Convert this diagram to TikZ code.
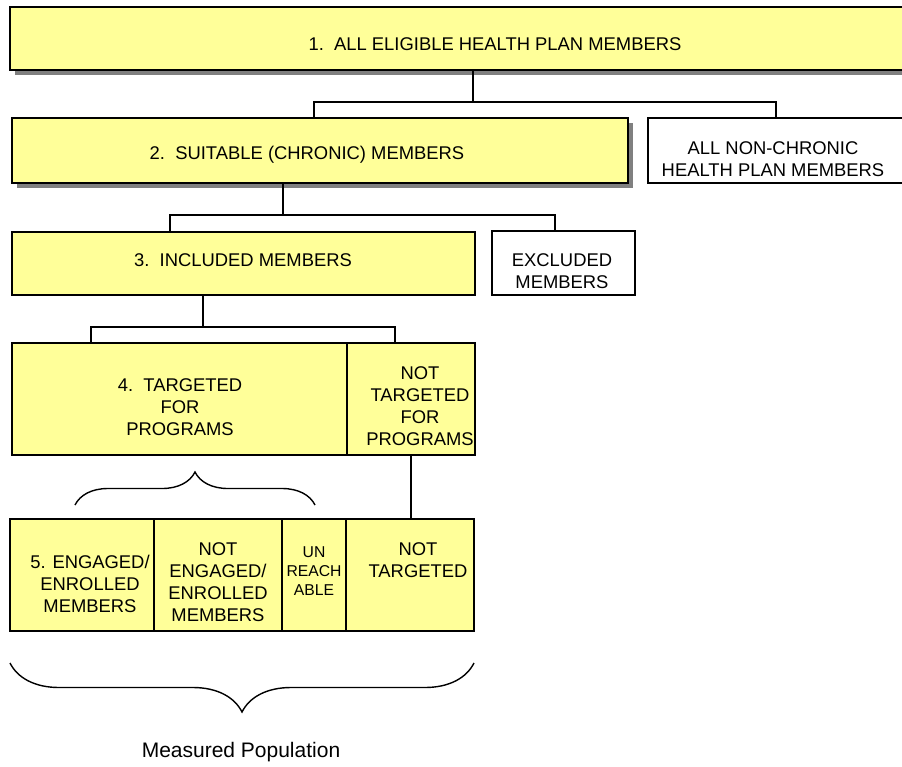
\documentclass[tikz,border=0pt]{standalone}
\usepackage{fontspec}
\setmainfont{Liberation Sans}
\usetikzlibrary{shadows,decorations.pathreplacing}
\definecolor{boxyellow}{HTML}{FFFF99}
\tikzset{
	stage/.style={draw, fill=boxyellow, line width=1.3pt, inner sep=0pt, outer sep=0pt, anchor=north west},
	other/.style={draw, fill=white, line width=1.3pt, inner sep=0pt, outer sep=0pt, anchor=north west},
	shade/.style={drop shadow={shadow xshift=5pt, shadow yshift=-5pt, opacity=1, fill=black!50}},
	txt/.style={align=center, inner sep=0pt},
	small/.style={font=\fontsize{15.7}{19}\selectfont},
	curly/.style={decorate, line width=1.4pt},
}
\begin{document}
\begin{tikzpicture}[x=1pt, y=-1pt, line width=1.8pt, font=\fontsize{18.4}{22}\selectfont]
	\useasboundingbox (0,0) rectangle (902,766);
	\clip (0,0) rectangle (902,766);
	\node[stage, shade, minimum width=926pt, minimum height=63pt] (all) at (10,7) {};
	\node[txt] (allt) at (495,44) {1.\ \ ALL ELIGIBLE HEALTH PLAN MEMBERS};
	\node[stage, shade, line width=1.9pt, minimum width=616pt, minimum height=65pt] (suit) at (12,118) {};
	\node[txt] (suitt) at (307,155) {2.\ \ SUITABLE (CHRONIC) MEMBERS};
	\node[other, minimum width=256pt, minimum height=65pt] (nonch) at (648,118) {};
	\node[txt] (noncht) at (773,159) {ALL NON-CHRONIC\\HEALTH PLAN MEMBERS};
	\node[stage, minimum width=463pt, minimum height=63pt] (incl) at (12,232) {};
	\node[txt] (inclt) at (243,260) {3.\ \ INCLUDED MEMBERS};
	\node[other, minimum width=143pt, minimum height=64pt] (excl) at (492,231) {};
	\node[txt] (exclt) at (562,271) {EXCLUDED\\MEMBERS};
	\node[stage, minimum width=335pt, minimum height=112pt] (targ) at (12,343) {};
	\node[txt] (targt) at (180,407) {4.\ \ TARGETED\\FOR\\PROGRAMS};
	\node[stage, minimum width=128pt, minimum height=112pt] (ntarg) at (targ.north east) {};
	\node[txt] (ntargt) at (420,406) {NOT\\TARGETED\\FOR\\PROGRAMS};
	\node[stage, minimum width=144pt, minimum height=112pt] (eng) at (10,519) {};
	\node[stage, minimum width=128pt, minimum height=112pt] (neng) at (eng.north east) {};
	\node[stage, minimum width=64pt, minimum height=112pt] (unr) at (neng.north east) {};
	\node[stage, minimum width=128pt, minimum height=112pt] (rest) at (unr.north east) {};
	\node[txt] (engt) at (90,584) {5. ENGAGED/\\ENROLLED\\MEMBERS};
	\node[txt] (nengt) at (218,582) {NOT\\ENGAGED/\\ENROLLED\\MEMBERS};
	\node[txt, small] (unrt) at (314,571) {UN\\REACH\\ABLE};
	\node[txt] (restt) at (418,560) {NOT\\TARGETED};
	\draw (all.south) -- ++(0,32) coordinate (j1);
	\draw ([xshift=-6pt]suit.north) |- (j1) -| (nonch.north);
	\draw ([xshift=-37pt]suit.south) -- ++(0,32) coordinate (j2);
	\draw ([xshift=-73.5pt]incl.north) |- (j2) -| ([xshift=-8.5pt]excl.north);
	\draw ([xshift=-40.5pt]incl.south) -- ++(0,32) coordinate (j3);
	\draw ([xshift=-88.5pt]targ.north) |- (j3) -| ([xshift=-16pt]ntarg.north);
	\draw (ntarg.south) -- (ntarg.south |- rest.north);
	\coordinate (b1) at (75,505);
	\coordinate (b2) at (315,505);
	\draw[curly, decoration={brace, amplitude=33pt}] (b1) -- (b2);
	\draw[curly, decoration={brace, amplitude=49pt}] ([yshift=-32pt]rest.south east) -- ([yshift=-32pt]eng.south west);
	\node[font=\fontsize{21}{25}\selectfont] (meas) at (241,752) {Measured Population};
\end{tikzpicture}
\end{document}
